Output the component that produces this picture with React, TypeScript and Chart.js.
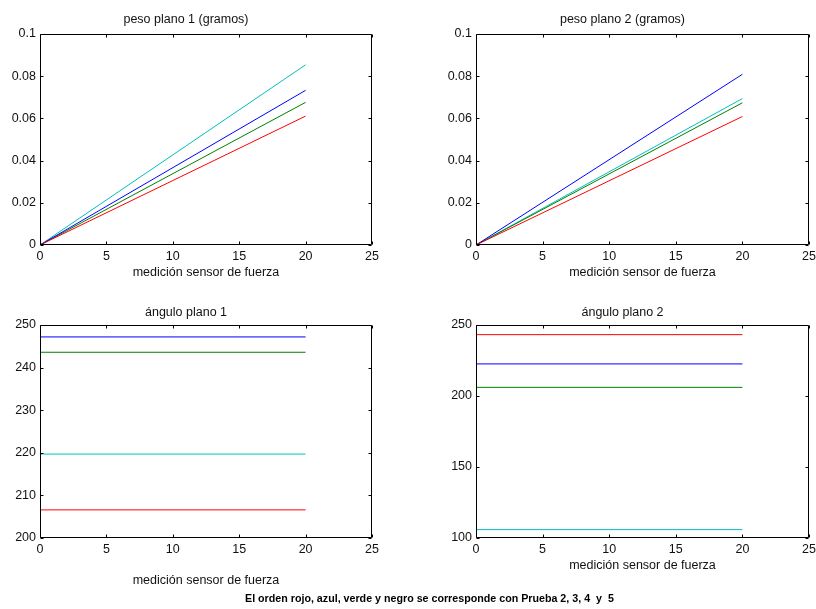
import React, { useEffect, useRef } from 'react';
import { Chart, registerables } from 'chart.js';

Chart.register(...registerables);

// ---- data ----
const xValues = [0, 20];
const xTicks = [0, 5, 10, 15, 20, 25];
const seriesNames = ['Prueba 2 (rojo)', 'Prueba 3 (azul)', 'Prueba 4 (verde)', 'Prueba 5'];
const seriesColors = ['#ff0000', '#0000ff', '#008000', '#00bfbf'];

const peso1Rojo = [0, 0.0611];
const peso1Azul = [0, 0.0733];
const peso1Verde = [0, 0.0676];
const peso1Cian = [0, 0.0854];

const peso2Rojo = [0, 0.0609];
const peso2Azul = [0, 0.0809];
const peso2Verde = [0, 0.0674];
const peso2Cian = [0, 0.0694];

const angulo1Rojo = [206.6, 206.6];
const angulo1Azul = [247.2, 247.2];
const angulo1Verde = [243.6, 243.6];
const angulo1Cian = [219.7, 219.7];

const angulo2Rojo = [243.2, 243.2];
const angulo2Azul = [222.6, 222.6];
const angulo2Verde = [206.1, 206.1];
const angulo2Cian = [105.9, 105.9];

const pesoTicks = [0, 0.02, 0.04, 0.06, 0.08, 0.1];
const angulo1Ticks = [200, 210, 220, 230, 240, 250];
const angulo2Ticks = [100, 150, 200, 250];

const xLabel = 'medición sensor de fuerza';
const footnote = 'El orden rojo, azul, verde y negro se corresponde con Prueba 2, 3, 4\u00a0 y\u00a0 5';

// ---- styling ----
const FONT = "'Liberation Sans', Arial, sans-serif";
const TEXT_COLOR = '#111111';

const boxPlugin = {
  id: 'matlabBox',
  afterDatasetsDraw(chart: any) {
    const { ctx, chartArea, scales } = chart;
    const xs = scales.x;
    const ys = scales.y;
    const L = Math.round(chartArea.left) + 0.5;
    const R = Math.round(chartArea.right) - 0.5;
    const T = Math.round(chartArea.top) + 0.5;
    const B = Math.round(chartArea.bottom) - 0.5;
    const len = 3;
    ctx.save();
    ctx.strokeStyle = '#000000';
    ctx.lineWidth = 1;
    ctx.beginPath();
    ctx.rect(L, T, R - L, B - T);
    xs.ticks.forEach((t: any) => {
      const px = Math.round(xs.getPixelForValue(t.value)) + 0.5;
      ctx.moveTo(px, B);
      ctx.lineTo(px, B - len);
      ctx.moveTo(px, T);
      ctx.lineTo(px, T + len);
    });
    ys.ticks.forEach((t: any) => {
      const py = Math.round(ys.getPixelForValue(t.value)) + 0.5;
      ctx.moveTo(L, py);
      ctx.lineTo(L + len, py);
      ctx.moveTo(R, py);
      ctx.lineTo(R - len, py);
    });
    ctx.stroke();
    ctx.restore();
  },
};

type PanelProps = {
  title: string;
  series: number[][];
  yTicks: number[];
  left: number;
  top: number;
  width: number;
  height: number;
  padLeft: number;
  padRight: number;
  yAxisWidth: number;
  titlePadTop: number;
  titlePadBottom: number;
  xAxisHeight: number;
  xTitlePadBottom: number;
};

function fmt(v: number) {
  return String(parseFloat(Number(v).toFixed(4)));
}

function Panel(p: PanelProps) {
  const ref = useRef<HTMLCanvasElement | null>(null);
  useEffect(() => {
    if (!ref.current) return;
    const datasets = p.series.map((vals, i) => ({
      label: seriesNames[i],
      data: xValues.map((x, k) => ({ x, y: vals[k] })),
      borderColor: seriesColors[i],
      backgroundColor: seriesColors[i],
      borderWidth: 1,
      pointRadius: 0,
      tension: 0,
      fill: false,
    }));
    const yMin = p.yTicks[0];
    const yMax = p.yTicks[p.yTicks.length - 1];
    const chart = new Chart(ref.current, {
      type: 'line',
      data: { datasets },
      plugins: [boxPlugin],
      options: {
        responsive: false,
        animation: false,
        layout: { padding: { left: p.padLeft, right: p.padRight, top: 0, bottom: 0 } },
        plugins: {
          legend: { display: false },
          tooltip: { enabled: false },
          title: {
            display: true,
            text: p.title,
            color: TEXT_COLOR,
            font: { family: FONT, size: 12.5, weight: 'normal', lineHeight: 1.2 },
            padding: { top: p.titlePadTop, bottom: p.titlePadBottom },
          },
        },
        scales: {
          x: {
            type: 'linear',
            min: 0,
            max: 25,
            grid: { display: false, drawTicks: false },
            border: { display: false },
            afterBuildTicks: (s: any) => {
              s.ticks = xTicks.map((v) => ({ value: v }));
            },
            afterFit: (s: any) => {
              s.height = p.xAxisHeight;
              s.paddingLeft = 0;
              s.paddingRight = 0;
            },
            ticks: {
              color: TEXT_COLOR,
              font: { family: FONT, size: 12.5 },
              padding: 4,
              maxRotation: 0,
              autoSkip: false,
              callback: (v: any) => fmt(v),
            },
            title: {
              display: true,
              text: xLabel,
              color: TEXT_COLOR,
              font: { family: FONT, size: 12.5, lineHeight: 1.2 },
              padding: { top: 0, bottom: p.xTitlePadBottom },
            },
          },
          y: {
            type: 'linear',
            min: yMin,
            max: yMax,
            grid: { display: false, drawTicks: false },
            border: { display: false },
            afterBuildTicks: (s: any) => {
              s.ticks = p.yTicks.map((v) => ({ value: v }));
            },
            afterFit: (s: any) => {
              s.width = p.yAxisWidth;
              s.paddingTop = 0;
              s.paddingBottom = 0;
            },
            ticks: {
              color: TEXT_COLOR,
              font: { family: FONT, size: 12.5 },
              padding: 4,
              autoSkip: false,
              callback: (v: any) => fmt(v),
            },
          },
        },
      } as any,
    });
    return () => chart.destroy();
  }, []);
  return (
    <canvas
      ref={ref}
      width={p.width}
      height={p.height}
      style={{ position: 'absolute', left: p.left, top: p.top, width: p.width, height: p.height }}
    />
  );
}

export default function App() {
  return (
    <div
      style={{
        position: 'absolute',
        left: 0,
        top: 0,
        width: 816,
        height: 609,
        background: '#ffffff',
        overflow: 'hidden',
      }}
    >
      <Panel
        title="peso plano 1 (gramos)"
        series={[peso1Rojo, peso1Azul, peso1Verde, peso1Cian]}
        yTicks={pesoTicks}
        left={0}
        top={0}
        width={408}
        height={290}
        padLeft={0}
        padRight={36}
        yAxisWidth={40}
        titlePadTop={12}
        titlePadBottom={7}
        xAxisHeight={45}
        xTitlePadBottom={9.5}
      />
      <Panel
        title="peso plano 2 (gramos)"
        series={[peso2Rojo, peso2Azul, peso2Verde, peso2Cian]}
        yTicks={pesoTicks}
        left={408}
        top={0}
        width={408}
        height={290}
        padLeft={28}
        padRight={7}
        yAxisWidth={40}
        titlePadTop={12}
        titlePadBottom={7}
        xAxisHeight={45}
        xTitlePadBottom={9.5}
      />
      <Panel
        title="ángulo plano 1"
        series={[angulo1Rojo, angulo1Azul, angulo1Verde, angulo1Cian]}
        yTicks={angulo1Ticks}
        left={0}
        top={290}
        width={408}
        height={319}
        padLeft={0}
        padRight={36}
        yAxisWidth={40}
        titlePadTop={15}
        titlePadBottom={5}
        xAxisHeight={71}
        xTitlePadBottom={20.5}
      />
      <Panel
        title="ángulo plano 2"
        series={[angulo2Rojo, angulo2Azul, angulo2Verde, angulo2Cian]}
        yTicks={angulo2Ticks}
        left={408}
        top={290}
        width={408}
        height={319}
        padLeft={28}
        padRight={7}
        yAxisWidth={40}
        titlePadTop={15}
        titlePadBottom={5}
        xAxisHeight={71}
        xTitlePadBottom={36}
      />
      <div
        style={{
          position: 'absolute',
          left: 245,
          top: 592,
          fontFamily: FONT,
          fontWeight: 'bold',
          fontSize: 10.7,
          lineHeight: '13px',
          color: '#000000',
          whiteSpace: 'pre',
        }}
      >
        {footnote}
      </div>
    </div>
  );
}
